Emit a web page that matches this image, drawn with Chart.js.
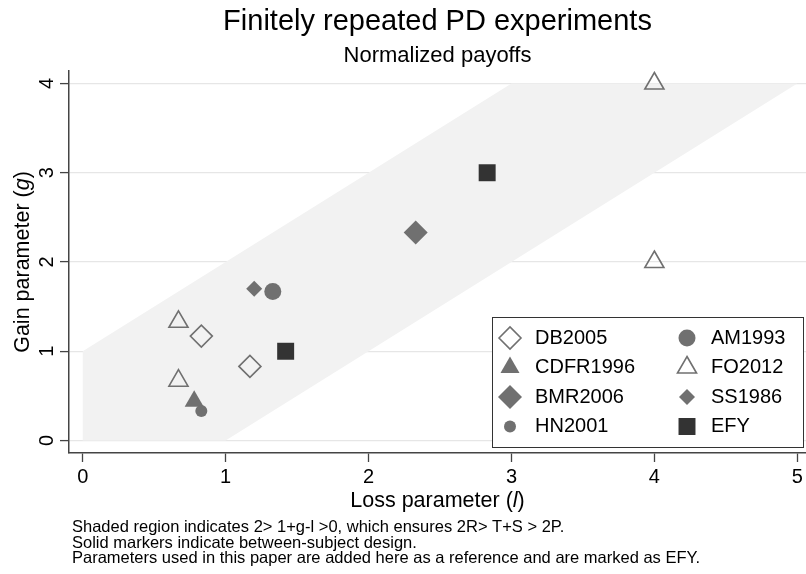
<!DOCTYPE html>
<html>
<head>
  <meta charset="UTF-8">
  <title>Finitely repeated PD experiments</title>
  <script src="https://cdn.jsdelivr.net/npm/chart.js"></script>
  <style>
    body { margin: 0; background: #fff; }
    #chart { display: block; }
  </style>
</head>
<body>
  <canvas id="chart" width="806" height="574"></canvas>

<script>
  // loss (l) and gain (g) parameters of each experiment
  var db2005L = [0.83, 1.17];
  var db2005G = [1.17, 0.83];
  var am1993L = [1.33];
  var am1993G = [1.67];
  var cdfr1996L = [0.78];
  var cdfr1996G = [0.44];
  var fo2012L = [4, 4, 0.67, 0.67];
  var fo2012G = [4, 2, 1.33, 0.67];
  var bmr2006L = [2.33];
  var bmr2006G = [2.33];
  var ss1986L = [1.2];
  var ss1986G = [1.7];
  var hn2001L = [0.83];
  var hn2001G = [0.33];
  var efyL = [2.83, 1.42];
  var efyG = [3, 1];

  // region where 2 > 1+g-l > 0 (corners of the polygon)
  var shadeL = [0, 0, 3, 5, 1];
  var shadeG = [0, 1, 4, 4, 0];

  var xTicks = [0, 1, 2, 3, 4, 5];
  var yTicks = [0, 1, 2, 3, 4];

  var notes = [
    "Shaded region indicates 2> 1+g-l >0, which ensures 2R> T+S > 2P.",
    "Solid markers indicate between-subject design.",
    "Parameters used in this paper are added here as a reference and are marked as EFY."
  ];

  var font = "'Liberation Sans', Arial, Helvetica, sans-serif";
  var gray = '#707070';
  var dark = '#333333';

  function pairs(ls, gs) {
    return ls.map(function (l, i) { return { x: l, y: gs[i] }; });
  }

  // first one in the list ends up on top
  var series = [
    { label: 'HN2001', l: hn2001L, g: hn2001G, style: 'circle', r: 6, solid: true, color: gray },
    { label: 'CDFR1996', l: cdfr1996L, g: cdfr1996G, style: 'triangle', r: 11, solid: true, color: gray },
    { label: 'DB2005', l: db2005L, g: db2005G, style: 'rectRot', r: 11, solid: false, color: gray },
    { label: 'AM1993', l: am1993L, g: am1993G, style: 'circle', r: 8.5, solid: true, color: gray },
    { label: 'SS1986', l: ss1986L, g: ss1986G, style: 'rectRot', r: 8, solid: true, color: gray },
    { label: 'BMR2006', l: bmr2006L, g: bmr2006G, style: 'rectRot', r: 12, solid: true, color: gray },
    { label: 'FO2012', l: fo2012L, g: fo2012G, style: 'triangle', r: 11, solid: false, color: gray },
    { label: 'EFY', l: efyL, g: efyG, style: 'rect', r: 12, solid: true, color: dark }
  ];

  var legendOrder = ['DB2005', 'AM1993', 'CDFR1996', 'FO2012', 'BMR2006', 'SS1986', 'HN2001', 'EFY'];

  var datasets = series.map(function (s) {
    return {
      label: s.label,
      data: pairs(s.l, s.g),
      pointStyle: s.style,
      pointRadius: s.r,
      pointHoverRadius: s.r,
      backgroundColor: s.solid ? s.color : 'rgba(0,0,0,0)',
      borderColor: s.color,
      borderWidth: s.solid ? 0 : 1.6,
      order: 0
    };
  });

  datasets.push({
    type: 'line',
    label: 'shade',
    data: pairs(shadeL, shadeG),
    fill: 'shape',
    backgroundColor: '#f2f2f2',
    borderWidth: 0,
    pointRadius: 0,
    pointHoverRadius: 0,
    order: 1
  });

  function drawRich(ctx, parts, size, x, y) {
    var widths = parts.map(function (p) {
      ctx.font = (p[1] ? 'italic ' : '') + size + 'px ' + font;
      return ctx.measureText(p[0]).width;
    });
    var total = widths.reduce(function (a, b) { return a + b; }, 0);
    var cx = x - total / 2;
    ctx.textAlign = 'left';
    parts.forEach(function (p, i) {
      ctx.font = (p[1] ? 'italic ' : '') + size + 'px ' + font;
      ctx.fillText(p[0], cx, y);
      cx += widths[i];
    });
  }

  function drawMarker(ctx, s, x, y) {
    ctx.fillStyle = s.solid ? s.color : '#ffffff';
    ctx.strokeStyle = s.color;
    ctx.lineWidth = s.solid ? 0 : 1.6;
    Chart.helpers.drawPoint(ctx, {
      pointStyle: s.style, radius: s.r, rotation: 0, borderWidth: s.solid ? 0 : 1.6
    }, x, y);
  }

  var extras = {
    id: 'extras',
    afterDraw: function (chart) {
      var ctx = chart.ctx;
      var area = chart.chartArea;
      ctx.save();
      ctx.fillStyle = '#000';

      // axis titles
      ctx.textBaseline = 'middle';
      drawRich(ctx, [['Loss parameter (', false], ['l', true], [')', false]], 21.5, (area.left + area.right) / 2, 501);
      ctx.save();
      ctx.translate(23, (area.top + area.bottom) / 2);
      ctx.rotate(-Math.PI / 2);
      drawRich(ctx, [['Gain parameter (', false], ['g', true], [')', false]], 21.5, 0, 0);
      ctx.restore();

      // legend box
      var bx = 492, by = 317, bw = 311, bh = 130;
      ctx.fillStyle = '#fff';
      ctx.fillRect(bx, by, bw, bh);
      ctx.strokeStyle = '#333';
      ctx.lineWidth = 1;
      ctx.strokeRect(bx + 0.5, by + 0.5, bw, bh);
      legendOrder.forEach(function (name, i) {
        var s = series.find(function (d) { return d.label === name; });
        var col = i % 2, row = Math.floor(i / 2);
        var y = 338 + row * 29.5;
        var mx = col === 0 ? 510 : 687;
        drawMarker(ctx, s, mx, y);
        ctx.fillStyle = '#000';
        ctx.font = '20px ' + font;
        ctx.textAlign = 'left';
        ctx.textBaseline = 'middle';
        ctx.fillText(name, col === 0 ? 535 : 711, y);
      });

      // notes under the axis
      ctx.fillStyle = '#000';
      ctx.font = '16.5px ' + font;
      ctx.textAlign = 'left';
      ctx.textBaseline = 'alphabetic';
      notes.forEach(function (t, i) {
        ctx.fillText(t, 72, 532 + i * 15.5);
      });
      ctx.restore();
    }
  };

  new Chart(document.getElementById('chart'), {
    type: 'scatter',
    data: { datasets: datasets },
    options: {
      responsive: false,
      animation: false,
      layout: { padding: 0, autoPadding: false },
      plugins: {
        legend: { display: false },
        tooltip: { enabled: false },
        title: {
          display: true,
          text: 'Finitely repeated PD experiments',
          fullSize: false,
          color: '#000',
          font: { size: 29, weight: 'normal' },
          padding: { top: 4.5, bottom: 3.4 }
        },
        subtitle: {
          display: true,
          text: 'Normalized payoffs',
          fullSize: false,
          color: '#000',
          font: { size: 22, weight: 'normal' },
          padding: { top: 0, bottom: 1.9 }
        }
      },
      scales: {
        x: {
          type: 'linear',
          min: -0.096,
          max: 5.061,
          afterBuildTicks: function (scale) {
            scale.ticks = xTicks.map(function (v) { return { value: v }; });
          },
          afterFit: function (scale) {
            scale.height = 121;
            scale.paddingLeft = 0;
            scale.paddingRight = 0;
          },
          ticks: { color: '#000', font: { size: 20 }, padding: 3, maxRotation: 0 },
          grid: { drawOnChartArea: false, tickLength: 9, tickColor: '#444', tickWidth: 1.3 },
          border: { display: true, color: '#444', width: 1.5 }
        },
        y: {
          type: 'linear',
          min: -0.14,
          max: 4.14,
          afterBuildTicks: function (scale) {
            scale.ticks = yTicks.map(function (v) { return { value: v }; });
          },
          afterFit: function (scale) {
            scale.width = 69;
            scale.paddingTop = 0;
            scale.paddingBottom = 0;
          },
          ticks: { color: '#000', font: { size: 20 }, padding: 7, minRotation: 90, maxRotation: 90, crossAlign: 'center' },
          grid: { color: '#e6e6e6', lineWidth: 1.2, tickLength: 9, tickColor: '#444', tickWidth: 1.3 },
          border: { display: true, color: '#444', width: 1.5 }
        }
      }
    },
    plugins: [extras]
  });
</script>
</body>
</html>
